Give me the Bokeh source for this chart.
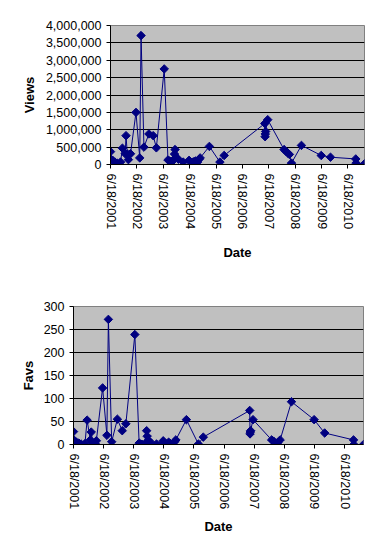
import numpy as np
import pandas as pd
from bokeh.plotting import figure
from bokeh.layouts import column
from bokeh.models import FixedTicker, NumeralTickFormatter, Range1d, ColumnDataSource
from bokeh.embed import file_html
from bokeh.resources import INLINE

DATES = [
    "2001-06-18", "2001-06-22", "2001-07-24", "2001-08-22", "2001-09-18",
    "2001-11-04", "2001-11-30", "2002-01-08", "2002-01-19", "2002-02-06",
    "2002-02-21", "2002-03-07", "2002-03-22", "2002-06-06", "2002-07-28",
    "2002-08-15", "2002-09-24", "2002-12-02", "2003-01-30", "2003-03-15",
    "2003-07-02", "2003-08-23", "2003-09-13", "2003-10-05", "2003-10-27",
    "2003-11-22", "2003-11-29", "2003-12-10", "2004-01-15", "2004-03-21",
    "2004-06-10", "2004-06-24", "2004-07-24", "2004-08-15", "2004-09-05",
    "2004-10-05", "2004-10-27", "2004-11-10", "2005-03-18", "2005-08-11",
    "2005-10-09", "2007-04-25", "2007-04-29", "2007-05-02", "2007-05-06",
    "2007-06-04", "2008-01-16", "2008-02-11", "2008-03-08", "2008-03-30",
    "2008-04-28", "2008-09-13", "2009-06-14", "2009-10-20", "2010-10-05",
    "2010-10-09", "2011-02-03",
]

VIEWS = [
    370000, 160000, 110000, 60000, 40000,
    70000, 470000, 310000, 830000, 300000,
    140000, 290000, 310000, 1500000, 190000,
    3710000, 500000, 880000, 830000, 480000,
    2750000, 130000, 100000, 90000, 100000,
    300000, 430000, 200000, 150000, 70000,
    120000, 90000, 60000, 80000, 100000,
    70000, 150000, 190000, 520000, 70000,
    260000, 1180000, 800000, 880000, 950000,
    1290000, 430000, 380000, 330000, 290000,
    40000, 550000, 260000, 210000, 160000,
    40000, 20000,
]

FAVS = [
    28, 10, 5, 3, 1,
    2, 53, 10, 27, 4,
    0, 2, 8, 123, 20,
    272, 6, 55, 30, 45,
    239, 3, 1, 0, 0,
    30, 18, 9, 4, 1,
    8, 3, 1, 5, 2,
    0, 6, 10, 54, 1,
    16, 74, 23, 27, 30,
    54, 10, 7, 3, 4,
    10, 93, 54, 25, 10,
    0, 0,
]

TICK_LABELS = [
    "6/18/2001", "6/18/2002", "6/18/2003", "6/18/2004", "6/18/2005",
    "6/18/2006", "6/18/2007", "6/18/2008", "6/18/2009", "6/18/2010",
]
VIEWS_TICKS = [0, 500000, 1000000, 1500000, 2000000, 2500000, 3000000, 3500000, 4000000]
FAVS_TICKS = [0, 50, 100, 150, 200, 250, 300]

NAVY = "#000080"
FONT = "Liberation Sans"


def to_ms(values, fmt=None):
    d = pd.to_datetime(values, format=fmt)
    return [int((t - pd.Timestamp("1970-01-01")) / pd.Timedelta("1ms")) for t in d]


x_ms = to_ms(DATES)
tick_ms = to_ms(TICK_LABELS, "%m/%d/%Y")
src = ColumnDataSource(data=dict(x=x_ms, views=VIEWS, favs=FAVS))


def make_chart(ycol, yticks, ylabel, yfmt, width, height, borders, fsize, ystand, xstand):
    left, right, top, bottom = borders
    p = figure(width=width, height=height, output_backend="svg", toolbar_location=None,
               x_range=Range1d(min(x_ms), max(x_ms)),
               y_range=Range1d(yticks[0], yticks[-1]),
               min_border_left=left, min_border_right=right,
               min_border_top=top, min_border_bottom=bottom)
    p.frame_align = False
    p.background_fill_color = "#C0C0C0"
    p.border_fill_color = "white"
    p.outline_line_color = "#808080"
    p.outline_line_width = 1

    p.xgrid.visible = False
    p.ygrid.grid_line_color = "black"
    p.ygrid.grid_line_width = 1
    p.ygrid.ticker = FixedTicker(ticks=yticks)

    p.line("x", ycol, source=src, line_color=NAVY, line_width=1)
    p.scatter("x", ycol, source=src, marker="square", angle=np.pi / 4, size=6,
              fill_color=NAVY, line_color=NAVY)

    xa = p.xaxis[0]
    xa.ticker = FixedTicker(ticks=tick_ms)
    xa.major_label_overrides = {t: lab for t, lab in zip(tick_ms, TICK_LABELS)}
    xa.major_label_orientation = "vertical"
    xa.axis_label = "Date"
    ya = p.yaxis[0]
    ya.ticker = FixedTicker(ticks=yticks)
    ya.formatter = NumeralTickFormatter(format=yfmt)
    ya.axis_label = ylabel

    for ax in (xa, ya):
        ax.axis_line_color = "black"
        ax.major_tick_line_color = "black"
        ax.major_tick_in = 0
        ax.major_tick_out = 4
        ax.minor_tick_line_color = None
        ax.major_label_text_font = FONT
        ax.major_label_text_font_size = fsize
        ax.major_label_text_color = "black"
        ax.major_label_standoff = 5
        ax.axis_label_text_font = FONT
        ax.axis_label_text_font_size = "13px"
        ax.axis_label_text_font_style = "bold"
        ax.axis_label_text_color = "black"
    ya.axis_label_standoff = ystand
    xa.axis_label_standoff = xstand
    return p


p1 = make_chart("views", VIEWS_TICKS, "Views", "0,0", 371, 278, (110, 7, 25, 114),
                "12.5px", 6, 13)
p2 = make_chart("favs", FAVS_TICKS, "Favs", "0", 371, 259, (73, 8, 28, 93),
                "12.5px", 5, 7)

layout = column(p1, p2, spacing=0)
open("out.html", "w").write(file_html(layout, INLINE))
